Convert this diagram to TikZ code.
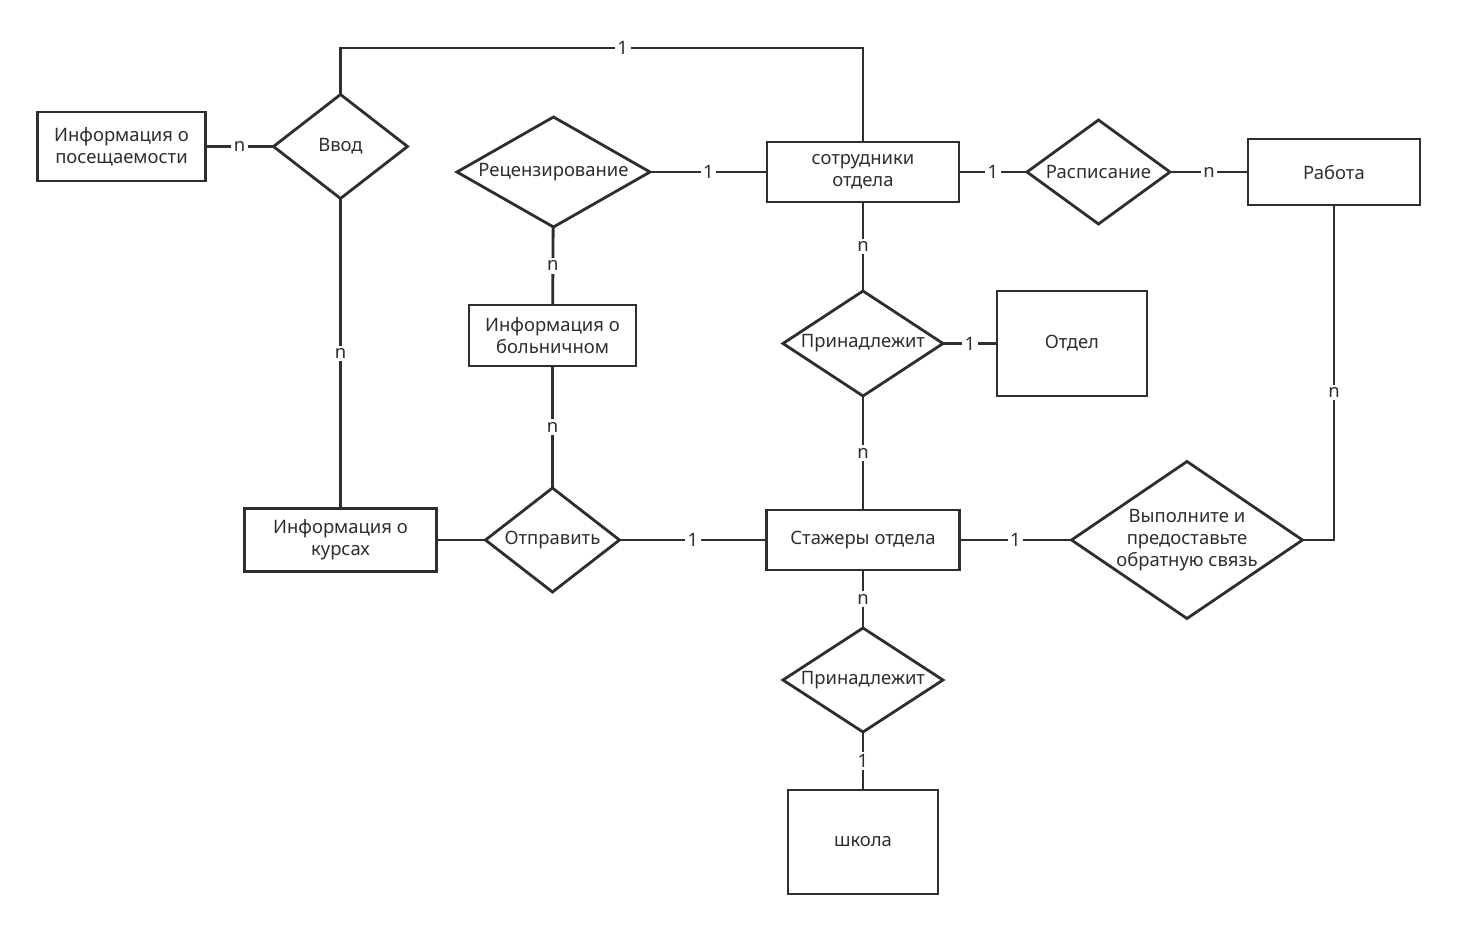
\documentclass[tikz,border=0pt]{standalone}
\usepackage{fontspec}
\setmainfont{Noto Sans}
\usetikzlibrary{positioning,shapes.geometric}
\definecolor{ink}{HTML}{2E2E2E}

\begin{document}
\begin{tikzpicture}[
    node distance=1.2cm,
    every node/.style={font=\fontsize{10.5}{12.5}\selectfont, text=ink},
    ent/.style={draw=ink, line width=1.6pt, rectangle, align=center, inner sep=0pt, outer sep=0pt},
    rel/.style={draw=ink, line width=1.6pt, diamond, aspect=1.6, align=center, inner sep=0pt, outer sep=0pt},
    link/.style={draw=ink, line width=1.6pt},
    card/.style={fill=white, inner sep=1.5pt}
]
\useasboundingbox (-17.26,3.44) rectangle (11.88,-15.2);
\node[ent, minimum width=3.84cm, minimum height=1.2cm] (staff) {сотрудники\\отдела};
\node[rel, aspect=1.8, minimum width=3.86cm, minimum height=2.2cm, left=2.34cm of staff] (review) {Рецензирование};
\node[rel, minimum width=2.86cm, minimum height=2.08cm, right=1.36cm of staff] (sched) {Расписание};
\node[ent, minimum width=3.44cm, minimum height=1.32cm, right=1.56cm of sched] (work) {Работа};
\node[rel, minimum width=3.2cm, minimum height=2.1cm, below=1.78cm of staff] (belong1) {Принадлежит};
\node[ent, minimum width=3cm, minimum height=2.1cm, right=1.08cm of belong1] (dept) {Отдел};
\node[ent, minimum width=3.86cm, minimum height=1.2cm, below=2.28cm of belong1] (intern) {Стажеры отдела};
\node[rel, minimum width=3.2cm, minimum height=2.08cm, below=1.16cm of intern] (belong2) {Принадлежит};
\node[ent, minimum width=3cm, minimum height=2.08cm, below=1.16cm of belong2] (school) {школа};
\node[rel, aspect=1.47, inner ysep=-6pt, minimum width=4.62cm, minimum height=3.14cm, right=2.24cm of intern] (feedback) {Выполните и\\предоставьте\\обратную связь};
\node[rel, minimum width=2.68cm, minimum height=2.08cm, left=2.94cm of intern] (send) {Отправить};
\node[ent, minimum width=3.84cm, minimum height=1.26cm, left=0.98cm of send] (course) {Информация о\\курсах};
\node[ent, minimum width=3.34cm, minimum height=1.22cm, above=2.44cm of send] (sick) {Информация о\\больничном};
\node[rel, minimum width=2.68cm, minimum height=2.08cm, above=6.2cm of course] (input) {Ввод};
\node[ent, minimum width=3.36cm, minimum height=1.38cm, left=1.36cm of input] (attend) {Информация о\\посещаемости};
\coordinate (topbend) at (0,2.48);
\draw[link] (input.north) |- (topbend) node[card, pos=0.77] {1} -- (staff.north);
\draw[link] (attend) -- (input) node[card, midway] {n};
\draw[link] (review) -- (staff) node[card, midway] {1};
\draw[link] (staff) -- (sched) node[card, midway] {1};
\draw[link] (sched) -- (work) node[card, midway] {n};
\draw[link] (staff) -- (belong1) node[card, midway] {n};
\draw[link] (belong1) -- (dept) node[card, midway] {1};
\draw[link] (belong1) -- (intern) node[card, midway] {n};
\draw[link] (review) -- (sick) node[card, midway] {n};
\draw[link] (sick) -- (send) node[card, midway] {n};
\draw[link] (input) -- (course) node[card, midway] {n};
\draw[link] (course) -- (send);
\draw[link] (send) -- (intern) node[card, midway] {1};
\draw[link] (intern) -- (feedback) node[card, midway] {1};
\draw[link] (feedback.east) -| (work.south) node[card, pos=0.72] {n};
\draw[link] (intern) -- (belong2) node[card, midway] {n};
\draw[link] (belong2) -- (school) node[card, midway] {1};
\end{tikzpicture}
\end{document}
